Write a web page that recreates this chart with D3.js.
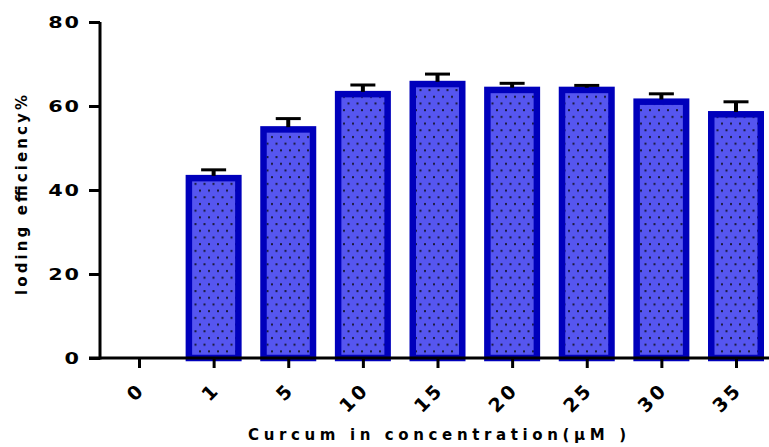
<!DOCTYPE html>
<html>
<head>
<meta charset="utf-8">
<script src="https://cdn.jsdelivr.net/npm/d3@7"></script>
<style>
  html, body { margin: 0; padding: 0; background: #fff; }
  svg { display: block; }
  text { font-family: "DejaVu Sans", "Liberation Sans", Arial, sans-serif; font-weight: bold; fill: #000; }
</style>
</head>
<body>
<svg id="chart" width="769" height="447"></svg>
<script>
// Curcumin concentration (µM) vs. loading efficiency (%), mean ± error
const categories = ["0", "1", "5", "10", "15", "20", "25", "30", "35"];
const means      = [0, 43.6, 55.2, 63.6, 66.0, 64.6, 64.6, 61.8, 58.8];
const errors     = [0, 1.2, 1.8, 1.4, 1.6, 0.8, 0.3, 1.1, 2.2];
const yTicks     = [0, 20, 40, 60, 80];

const svg = d3.select("#chart");

const x = d3.scalePoint().domain(categories).range([139, 736]);
const y = d3.scaleLinear().domain([0, 80]).range([358, 22]);

const barW = 56, sw = 6.5;

// dotted fill pattern
const defs = svg.append("defs");
const pat = defs.append("pattern")
  .attr("id", "dots").attr("patternUnits", "userSpaceOnUse")
  .attr("width", 9).attr("height", 13.4);
pat.append("rect").attr("width", 9).attr("height", 13.4).attr("fill", "#5656F0");
pat.append("rect").attr("x", 1).attr("y", 2).attr("width", 2).attr("height", 2).attr("fill", "#1a1a3a");
pat.append("rect").attr("x", 5.5).attr("y", 8.7).attr("width", 2).attr("height", 2).attr("fill", "#1a1a3a");

// bars
const bars = categories.map((c, i) => ({ c, m: means[i], e: errors[i] })).filter(d => d.m > 0);

svg.append("g").selectAll("rect").data(bars).join("rect")
  .attr("x", d => x(d.c) - barW / 2 + sw / 2)
  .attr("y", d => y(d.m) + sw / 2)
  .attr("width", barW - sw)
  .attr("height", d => y(0) - y(d.m) - sw / 2)
  .attr("fill", "url(#dots)")
  .attr("stroke", "#0000BB")
  .attr("stroke-width", sw);

// error bars (upper only)
const eg = svg.append("g").selectAll("g").data(bars).join("g");
eg.append("line")
  .attr("x1", d => x(d.c)).attr("x2", d => x(d.c))
  .attr("y1", d => y(d.m) + 1).attr("y2", d => y(d.m + d.e))
  .attr("stroke", "#000").attr("stroke-width", 4);
eg.append("line")
  .attr("x1", d => x(d.c) - 12.5).attr("x2", d => x(d.c) + 12.5)
  .attr("y1", d => y(d.m + d.e)).attr("y2", d => y(d.m + d.e))
  .attr("stroke", "#000").attr("stroke-width", 3);

// y axis
const yAxis = svg.append("g").attr("transform", "translate(100,0)")
  .call(d3.axisLeft(y).tickValues(yTicks).tickSize(11).tickPadding(8));
yAxis.attr("font-family", null).attr("font-size", null);
yAxis.select(".domain").attr("d", `M0,${y(80)}V${y(0) + 1.5}`).attr("stroke", "#000").attr("stroke-width", 3);
yAxis.selectAll(".tick line").attr("stroke", "#000").attr("stroke-width", 3);
yAxis.selectAll(".tick text")
  .attr("font-size", 16).attr("letter-spacing", "1.5px")
  .attr("x", 0)
  .attr("transform", "translate(-19,0) scale(1.3,1)");

// x axis
const xAxis = svg.append("g").attr("transform", `translate(0,${y(0)})`)
  .call(d3.axisBottom(x).tickSize(10).tickPadding(10));
xAxis.attr("font-family", null).attr("font-size", null);
xAxis.select(".domain").attr("d", "M89,0H769").attr("stroke", "#000").attr("stroke-width", 3);
xAxis.selectAll(".tick line").attr("stroke", "#000").attr("stroke-width", 3);
xAxis.selectAll(".tick text")
  .attr("font-size", 19).attr("letter-spacing", "3px")
  .attr("text-anchor", "end")
  .attr("y", 0).attr("dy", "0.36em")
  .attr("transform", "translate(2,28) rotate(-45)");

// axis titles
svg.append("text")
  .attr("x", 248).attr("y", 440)
  .attr("font-size", 15)
  .attr("textLength", 378).attr("lengthAdjust", "spacing")
  .text("Curcum in concentration(μM )");

svg.append("text")
  .attr("transform", "translate(27,295) rotate(-90)")
  .attr("font-size", 15)
  .attr("textLength", 200).attr("lengthAdjust", "spacing")
  .text("loding efficiency%");
</script>
</body>
</html>
